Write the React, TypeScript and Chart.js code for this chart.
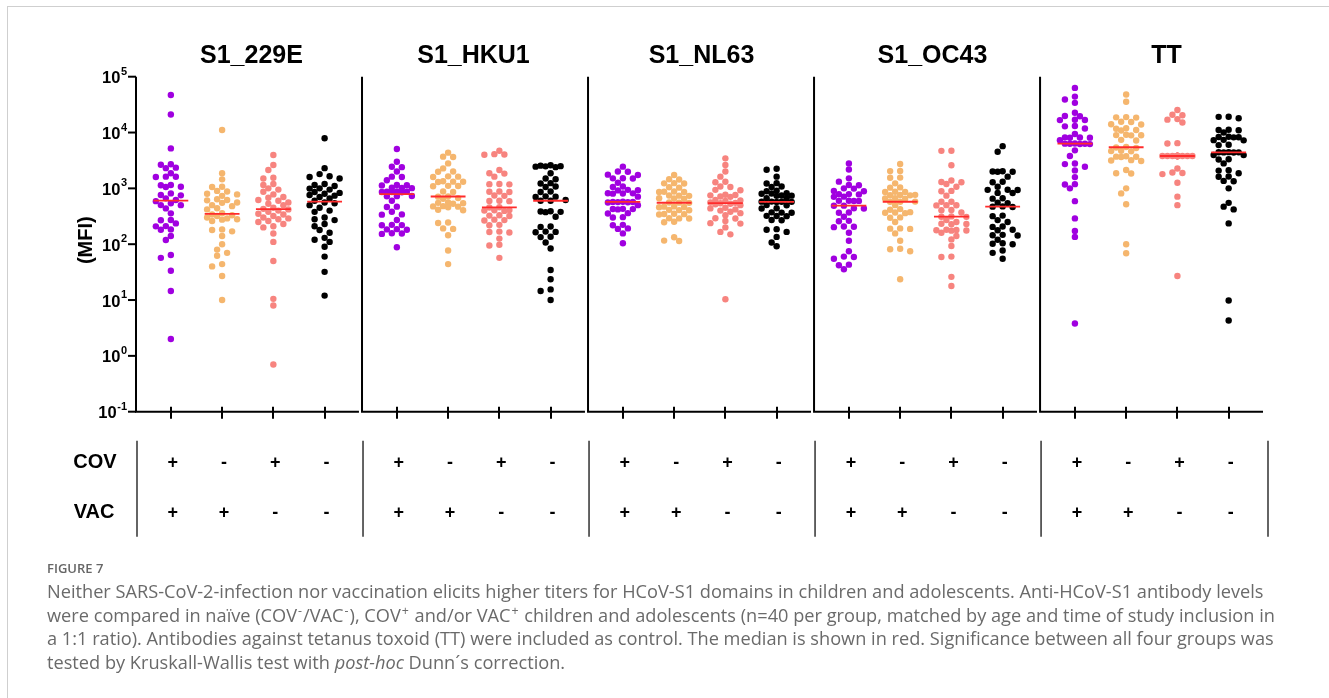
import React, { useEffect, useRef } from "react";
import { Chart, registerables } from "chart.js";

Chart.register(...registerables);

// Panels (antigens) and the four study groups shown in each of them.
const panelTitles = ["S1_229E", "S1_HKU1", "S1_NL63", "S1_OC43", "TT"];
// Group order inside a panel: COV+/VAC+, COV-/VAC+, COV+/VAC-, COV-/VAC-
const covSigns = ["+", "-", "+", "-"];
const vacSigns = ["+", "+", "-", "-"];
const groupColors = ["#a000e0", "#f5b66e", "#f7847f", "#000000"];
const medianColor = "#ff2b2b";
const yTickExponents = [5, 4, 3, 2, 1, 0, -1];

// MFI values, n = 40 per group
const s229eCovVac = [47000, 21000, 5200, 2700, 2650, 2350, 2300, 1860, 1620, 1610, 1600, 1150, 1140, 1070, 1060, 813, 760, 750, 662, 620, 590, 540, 502, 500, 438, 357, 271, 268, 236, 211, 209, 184, 182, 140, 119, 64, 57, 33.5, 14.5, 2.0];
const s229eVac = [11100, 1860, 1450, 1070, 1060, 900, 880, 800, 780, 735, 640, 620, 610, 560, 550, 500, 480, 440, 420, 360, 340, 330, 320, 300, 290, 280, 275, 260, 184, 180, 170, 140, 100, 80, 70, 62, 44, 40, 27, 10];
const s229eCov = [3950, 2620, 2130, 1550, 1500, 1200, 1150, 1000, 950, 870, 780, 700, 680, 620, 600, 560, 530, 500, 450, 430, 420, 400, 380, 350, 340, 320, 300, 290, 280, 260, 250, 230, 210, 200, 155, 110, 50, 10.5, 8.0, 0.7];
const s229eNaive = [7900, 2300, 1800, 1650, 1600, 1500, 1200, 1150, 1100, 1000, 990, 950, 860, 830, 800, 760, 740, 700, 660, 600, 560, 540, 500, 450, 400, 380, 300, 280, 270, 230, 210, 180, 160, 130, 120, 110, 90, 60, 32, 12];

const hku1CovVac = [5060, 3000, 2440, 2400, 2000, 1620, 1600, 1400, 1150, 1140, 1130, 1025, 1020, 1010, 880, 870, 870, 860, 860, 850, 730, 725, 720, 600, 470, 465, 382, 342, 338, 271, 222, 220, 218, 186, 184, 182, 157, 155, 153, 88];
const hku1Vac = [4360, 3700, 3650, 2800, 2280, 2000, 1980, 1640, 1620, 1600, 1340, 1320, 1310, 1300, 1110, 1100, 1090, 880, 860, 720, 710, 670, 650, 560, 550, 540, 530, 480, 475, 470, 460, 415, 405, 245, 240, 192, 188, 145, 77, 44];
const hku1Cov = [4730, 4100, 4050, 4000, 2130, 1860, 1840, 1620, 1200, 1190, 1180, 880, 870, 860, 745, 735, 600, 595, 590, 458, 455, 410, 405, 400, 395, 330, 325, 320, 275, 270, 265, 222, 218, 168, 165, 162, 126, 98, 95, 57];
const hku1Naive = [2600, 2550, 2500, 2480, 2450, 2400, 1860, 1500, 1460, 1240, 1220, 1080, 1060, 880, 860, 720, 710, 700, 620, 600, 600, 390, 385, 380, 375, 311, 208, 204, 168, 166, 164, 136, 134, 107, 84, 34.5, 23.6, 15.5, 14.5, 10];

const nl63CovVac = [2450, 2000, 1980, 1760, 1740, 1520, 1510, 1500, 1260, 1080, 1060, 940, 930, 920, 820, 815, 810, 805, 710, 575, 572, 570, 568, 565, 560, 500, 430, 427, 425, 420, 360, 355, 305, 300, 222, 218, 192, 188, 156, 104];
const nl63Vac = [1740, 1460, 1440, 1240, 1230, 1220, 1050, 1030, 880, 870, 865, 860, 745, 740, 735, 665, 660, 655, 560, 555, 550, 475, 470, 465, 460, 412, 408, 405, 350, 347, 345, 340, 292, 290, 288, 252, 248, 133, 116, 114];
const nl63Cov = [3450, 2620, 2000, 1620, 1310, 1290, 1080, 1060, 940, 925, 770, 760, 750, 715, 705, 620, 605, 595, 560, 550, 540, 530, 520, 500, 450, 438, 420, 400, 382, 360, 330, 292, 288, 260, 238, 234, 200, 166, 150, 10.3];
const nl63Naive = [2250, 2150, 1620, 1240, 1220, 1080, 1060, 910, 890, 820, 810, 800, 745, 740, 735, 665, 660, 580, 578, 576, 574, 572, 502, 498, 440, 436, 372, 368, 365, 322, 320, 318, 272, 268, 186, 182, 166, 135, 107, 92];

const oc43CovVac = [2800, 2180, 1510, 1320, 1150, 1140, 1000, 990, 900, 890, 790, 785, 780, 710, 705, 600, 598, 596, 594, 490, 488, 440, 436, 370, 366, 311, 262, 258, 208, 205, 202, 160, 115, 75, 60, 59, 55, 43, 42, 35.6];
const oc43Vac = [2730, 2050, 2040, 1560, 1550, 1230, 1040, 1030, 870, 865, 860, 765, 760, 755, 750, 665, 660, 655, 580, 577, 575, 500, 425, 415, 375, 370, 365, 360, 302, 298, 250, 192, 190, 188, 156, 115, 83, 81, 75, 23.5];
const oc43Cov = [4730, 4700, 2600, 1380, 1300, 1290, 1200, 1070, 900, 890, 740, 577, 575, 500, 498, 495, 410, 405, 370, 315, 311, 309, 271, 250, 232, 230, 228, 182, 180, 178, 176, 175, 160, 140, 122, 93, 60, 59, 26, 17.8];
const oc43Naive = [5700, 4540, 2020, 2000, 1990, 1980, 1620, 1310, 1290, 1070, 945, 940, 935, 830, 825, 665, 655, 555, 545, 475, 470, 465, 325, 318, 270, 250, 208, 204, 182, 178, 147, 145, 143, 120, 104, 102, 100, 77, 70, 55];

const ttCovVac = [63000, 44000, 39000, 34000, 22600, 19800, 19600, 16900, 16800, 16700, 13100, 12900, 11800, 9400, 8200, 8150, 8100, 8050, 7300, 6350, 6320, 6300, 6280, 6250, 6200, 4800, 3800, 2780, 2720, 2440, 2100, 1590, 1190, 1170, 1000, 590, 290, 173, 135, 3.8];
const ttVac = [48000, 35500, 18900, 18700, 18500, 15600, 15400, 14100, 13900, 11900, 11700, 11100, 10900, 9100, 9000, 8950, 8900, 7400, 7200, 5500, 5400, 5300, 4700, 4650, 4600, 3750, 3700, 3680, 3650, 3200, 3150, 3100, 2130, 1870, 1850, 1000, 813, 520, 100, 69];
const ttCov = [25400, 20800, 20400, 17400, 17000, 15100, 6450, 6350, 3800, 3800, 3800, 3800, 3800, 3800, 3800, 3800, 3800, 3800, 3800, 3800, 3800, 3800, 3800, 3800, 3800, 3800, 3800, 3800, 3800, 3800, 3800, 3800, 2270, 1920, 1880, 1800, 1260, 710, 500, 27];
const ttNaive = [19200, 19100, 18000, 11200, 11100, 11000, 10000, 8400, 8300, 8250, 8200, 7400, 7300, 7250, 6050, 5950, 4450, 4430, 4420, 4410, 4400, 3960, 3940, 3320, 3280, 2800, 2120, 2080, 1860, 1630, 1610, 1360, 1340, 1000, 550, 470, 420, 236, 9.8, 4.3];

const panelGroups = [
  [s229eCovVac, s229eVac, s229eCov, s229eNaive],
  [hku1CovVac, hku1Vac, hku1Cov, hku1Naive],
  [nl63CovVac, nl63Vac, nl63Cov, nl63Naive],
  [oc43CovVac, oc43Vac, oc43Cov, oc43Naive],
  [ttCovVac, ttVac, ttCov, ttNaive],
];

// Layout of the shared x axis (in group units): each panel holds groups 0..3
const PANEL_STEP = 4.41;
const PANEL_LEFT = -0.68;
const PANEL_RIGHT = 3.67;
const MEDIAN_HALF = 0.34;
const TITLE_NUDGE = [4, 0, 2, 7, 15];
const FONT = "'Liberation Sans', Arial, Helvetica, sans-serif";

function median(vals: number[]): number {
  const s = [...vals].sort((a, b) => a - b);
  const n = s.length;
  return n % 2 ? s[(n - 1) / 2] : (s[n / 2 - 1] + s[n / 2]) / 2;
}

// Beeswarm offsets (pixels) for points with the given vertical pixel positions
function swarmOffsets(py: number[], diam = 6, step = 5, maxOff = 15): number[] {
  const order = py.map((_, i) => i).sort((a, b) => py[a] - py[b]);
  const cands: number[] = [0];
  for (let k = 1; k * step <= maxOff + 1e-6; k++) cands.push(-k * step, k * step);
  const placed: { x: number; y: number }[] = [];
  const out = new Array(py.length).fill(0);
  for (const i of order) {
    const y = py[i];
    let best = 0;
    let bestScore = -Infinity;
    for (const c of cands) {
      let minD = Infinity;
      for (const p of placed) {
        if (Math.abs(p.y - y) < diam) {
          const d = Math.hypot(p.x - c, p.y - y);
          if (d < minD) minD = d;
        }
      }
      if (minD >= diam) {
        best = c;
        bestScore = Infinity;
        break;
      }
      if (minD > bestScore + 0.01) {
        bestScore = minD;
        best = c;
      }
    }
    placed.push({ x: best, y });
    out[i] = best;
  }
  return out;
}

const panelFramePlugin = {
  id: "panelFrames",
  beforeDatasetsDraw(chart: any) {
    const { ctx } = chart;
    const xs = chart.scales.x;
    const ys = chart.scales.y;
    const top = ys.getPixelForValue(1e5);
    const bottom = ys.getPixelForValue(0.1);
    ctx.save();
    ctx.strokeStyle = "#000";
    ctx.lineWidth = 2;
    ctx.lineCap = "butt";
    panelTitles.forEach((_, p) => {
      const base = p * PANEL_STEP;
      const left = xs.getPixelForValue(base + PANEL_LEFT);
      const right = xs.getPixelForValue(base + PANEL_RIGHT);
      ctx.beginPath();
      ctx.moveTo(left, top);
      ctx.lineTo(left, bottom);
      ctx.lineTo(right, bottom);
      ctx.stroke();
      for (let g = 0; g < 4; g++) {
        const x = Math.round(xs.getPixelForValue(base + g));
        ctx.beginPath();
        ctx.moveTo(x, bottom - 5);
        ctx.lineTo(x, bottom + 7);
        ctx.stroke();
      }
    });
    // y axis ticks on the first panel
    const axisX = xs.getPixelForValue(PANEL_LEFT);
    yTickExponents.forEach((e) => {
      const y = ys.getPixelForValue(Math.pow(10, e));
      ctx.beginPath();
      ctx.moveTo(axisX - 8, y);
      ctx.lineTo(axisX, y);
      ctx.stroke();
    });
    ctx.restore();
  },
  afterDatasetsDraw(chart: any) {
    const { ctx } = chart;
    const xs = chart.scales.x;
    const ys = chart.scales.y;
    const bottom = ys.getPixelForValue(0.1);
    const axisX = xs.getPixelForValue(PANEL_LEFT);
    ctx.save();
    ctx.fillStyle = "#000";

    // y tick labels 10^n
    yTickExponents.forEach((e) => {
      const y = ys.getPixelForValue(Math.pow(10, e));
      const right = axisX - 9;
      ctx.font = `bold 11px ${FONT}`;
      const sup = String(e);
      const supW = ctx.measureText(sup).width;
      ctx.textAlign = "left";
      ctx.textBaseline = "middle";
      ctx.fillText(sup, right - supW, y - 5);
      ctx.font = `bold 16.5px ${FONT}`;
      ctx.textAlign = "right";
      ctx.fillText("10", right - supW - 0.5, y + 2);
    });

    // y axis title
    ctx.save();
    ctx.translate(86, (ys.getPixelForValue(1e5) + bottom) / 2 - 4);
    ctx.rotate(-Math.PI / 2);
    ctx.font = `bold 20px ${FONT}`;
    ctx.textAlign = "center";
    ctx.textBaseline = "middle";
    ctx.fillText("(MFI)", 0, 0);
    ctx.restore();

    // panel titles
    ctx.font = `bold 25px ${FONT}`;
    ctx.textAlign = "center";
    ctx.textBaseline = "middle";
    panelTitles.forEach((t, p) => {
      const cx = xs.getPixelForValue(p * PANEL_STEP + (PANEL_LEFT + PANEL_RIGHT) / 2) + TITLE_NUDGE[p];
      ctx.fillText(t, cx, 56);
    });

    // group table below the panels
    const covY = bottom + 51;
    const vacY = bottom + 101;
    ctx.font = `bold 20px ${FONT}`;
    ctx.textAlign = "center";
    ctx.fillText("COV", 95, covY);
    ctx.fillText("VAC", 94, vacY);
    ctx.strokeStyle = "#111";
    ctx.lineWidth = 1.3;
    const seps = panelTitles.map((_, p) => xs.getPixelForValue(p * PANEL_STEP + PANEL_LEFT) + 1);
    seps.push(xs.getPixelForValue((panelTitles.length - 1) * PANEL_STEP + PANEL_RIGHT) + 5);
    seps.forEach((x) => {
      ctx.beginPath();
      ctx.moveTo(x, bottom + 29);
      ctx.lineTo(x, bottom + 125);
      ctx.stroke();
    });
    ctx.font = `bold 18px ${FONT}`;
    panelTitles.forEach((_, p) => {
      for (let g = 0; g < 4; g++) {
        const x = xs.getPixelForValue(p * PANEL_STEP + g);
        ctx.fillText(covSigns[g], x + 2, covY);
        ctx.fillText(vacSigns[g], x + 2, vacY);
      }
    });
    ctx.restore();
  },
};

export default function App() {
  const canvasRef = useRef<HTMLCanvasElement | null>(null);

  useEffect(() => {
    const canvas = canvasRef.current;
    if (!canvas) return;

    const pointSets: any[] = [];
    const medianSets: any[] = [];
    panelGroups.forEach((groups, p) => {
      groups.forEach((vals, g) => {
        const cx = p * PANEL_STEP + g;
        pointSets.push({
          label: `${panelTitles[p]}-${g}`,
          data: vals.map((v) => ({ x: cx, y: v })),
          backgroundColor: groupColors[g],
          borderWidth: 0,
          pointRadius: 3.2,
          pointHoverRadius: 3.2,
          clip: false,
          order: 1,
        });
        const m = median(vals);
        medianSets.push({
          label: `${panelTitles[p]}-${g}-median`,
          data: [
            { x: cx - MEDIAN_HALF, y: m },
            { x: cx + MEDIAN_HALF, y: m },
          ],
          showLine: true,
          borderColor: medianColor,
          borderWidth: 1.8,
          pointRadius: 0,
          clip: false,
          order: 0,
        });
      });
    });

    const chart = new Chart(canvas, {
      type: "scatter",
      data: { datasets: [...medianSets, ...pointSets] },
      options: {
        animation: false,
        responsive: false,
        maintainAspectRatio: false,
        events: [],
        layout: { padding: { left: 136, right: 66, top: 76.7, bottom: 286.3 } },
        plugins: {
          legend: { display: false },
          tooltip: { enabled: false },
          title: { display: false },
        },
        scales: {
          x: {
            type: "linear",
            display: false,
            min: PANEL_LEFT,
            max: (panelTitles.length - 1) * PANEL_STEP + PANEL_RIGHT,
          },
          y: { type: "logarithmic", display: false, min: 0.1, max: 1e5 },
        },
      },
      plugins: [panelFramePlugin],
    });

    // spread each group horizontally as a beeswarm
    const xs: any = chart.scales.x;
    const ys: any = chart.scales.y;
    const pxPerUnit = xs.getPixelForValue(1) - xs.getPixelForValue(0);
    let k = 0;
    panelGroups.forEach((groups, p) => {
      groups.forEach((vals, g) => {
        const cx = p * PANEL_STEP + g;
        const offs = swarmOffsets(vals.map((v) => ys.getPixelForValue(v)));
        pointSets[k].data = vals.map((v, i) => ({ x: cx + offs[i] / pxPerUnit, y: v }));
        k++;
      });
    });
    chart.update();

    return () => chart.destroy();
  }, []);

  const capStyle: React.CSSProperties = {
    position: "absolute",
    left: 47,
    top: 580,
    fontFamily: "'Open Sans', sans-serif",
    fontSize: 18.2,
    lineHeight: "23.5px",
    color: "#6a6a6a",
    whiteSpace: "nowrap",
  };
  const sup: React.CSSProperties = { fontSize: "0.68em", lineHeight: 0, verticalAlign: "0.55em", padding: "0 1px" };

  return (
    <div style={{ position: "relative", width: 1329, height: 698, overflow: "hidden", background: "#fff" }}>
      <style>{"html,body{margin:0;padding:0;overflow:hidden;background:#fff}"}</style>
      <div
        style={{
          position: "absolute",
          left: 7,
          top: 6,
          width: 1329 - 7,
          height: 698 - 6,
          borderLeft: "1px solid #cfcfcf",
          borderTop: "1px solid #cfcfcf",
          boxSizing: "border-box",
        }}
      />
      <canvas
        ref={canvasRef}
        width={1329}
        height={698}
        style={{ position: "absolute", left: 0, top: 0, width: 1329, height: 698 }}
      />
      <div
        style={{
          position: "absolute",
          left: 47,
          top: 559,
          fontFamily: "'Open Sans', sans-serif",
          fontSize: 13,
          fontWeight: 600,
          color: "#666",
        }}
      >
        FIGURE 7
      </div>
      <div style={capStyle}>
        <div>
          Neither SARS-CoV-2-infection nor vaccination elicits higher titers for HCoV-S1 domains in children and adolescents. Anti-HCoV-S1 antibody levels
        </div>
        <div>
          were compared in naïve (COV<span style={sup}>-</span>/VAC<span style={sup}>-</span>), COV<span style={sup}>+</span> and/or VAC
          <span style={sup}>+</span> children and adolescents (n=40 per group, matched by age and time of study inclusion in
        </div>
        <div>
          a 1:1 ratio). Antibodies against tetanus toxoid (TT) were included as control. The median is shown in red. Significance between all four groups was
        </div>
        <div>
          tested by Kruskall-Wallis test with <i>post-hoc</i> Dunn´s correction.
        </div>
      </div>
    </div>
  );
}
